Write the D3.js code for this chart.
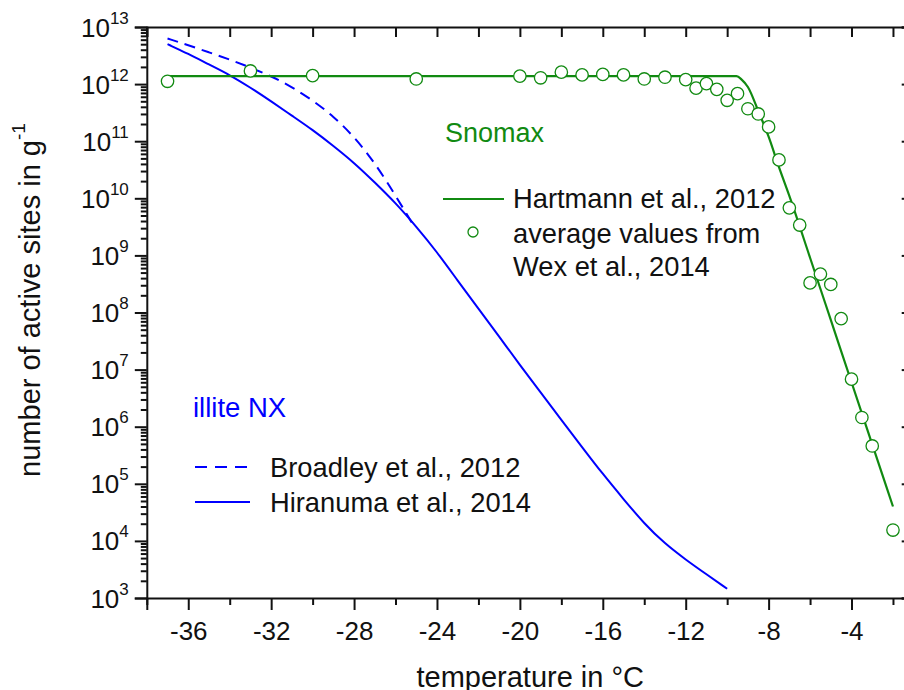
<!DOCTYPE html>
<html>
<head>
<meta charset="utf-8">
<script src="https://cdn.jsdelivr.net/npm/d3@7"></script>
<style>
  body { margin: 0; background: #fff; }
  svg { display: block; font-family: "Liberation Sans", Arial, sans-serif; }
</style>
</head>
<body>
<svg id="chart" width="904" height="690"></svg>
<script>
/* Snomax: Hartmann et al. 2012 fit (temperature in degC, sites per g) */
var hartmannT = [-37, -9.55, -9.3, -9.0, -8.5, -8.0, -7.5, -7.0, -6.0, -5.0, -4.0, -3.0, -2.0];
var hartmannN = [1.38e12, 1.38e12, 1.2e12, 8.9e11, 3.4e11, 1.2e11, 3.5e10, 1.1e10, 9.1e8, 7.4e7, 6.0e6, 4.9e5, 4.0e4];

/* Snomax: average values from Wex et al. 2014 */
var wexT = [-37, -33, -30, -25, -20, -19, -18, -17, -16, -15, -14, -13, -12, -11.5, -11, -10.5,
            -10, -9.5, -9, -8.5, -8, -7.5, -7, -6.5, -6, -5.5, -5, -4.5, -4, -3.5, -3, -2];
var wexN = [1.12e12, 1.7e12, 1.41e12, 1.23e12, 1.38e12, 1.29e12, 1.62e12, 1.45e12, 1.48e12, 1.45e12,
            1.23e12, 1.32e12, 1.2e12, 8.5e11, 1.02e12, 8.1e11, 5.2e11, 6.8e11, 3.7e11, 3.0e11, 1.78e11,
            4.7e10, 6.8e9, 3.4e9, 3.3e8, 4.7e8, 3.1e8, 7.8e7, 6.8e6, 1.45e6, 4.6e5, 1.55e4];

/* illite NX: Hiranuma et al. 2014 */
var hiranumaT = [-37, -36, -35, -34, -33, -32, -31, -30, -29, -28, -27, -26, -25, -24,
                 -23, -22, -21, -20, -19, -18, -17, -16, -15, -14, -13, -12, -11, -10];
var hiranumaN = [5.0e12, 3.4e12, 2.2e12, 1.45e12, 8.7e11, 5.0e11, 2.8e11, 1.58e11, 8.3e10, 4.2e10,
                 1.9e10, 8.3e9, 3.2e9, 1.15e9, 3.6e8, 1.17e8, 3.8e7, 1.2e7, 4.0e6, 1.32e6, 4.4e5,
                 1.48e5, 5.4e4, 2.0e4, 8.9e3, 4.7e3, 2.6e3, 1.45e3];

/* illite NX: Broadley et al. 2012 */
var broadleyT = [-37, -36, -35, -34, -33, -32, -31, -30, -29, -28, -27, -26, -25.1];
var broadleyN = [6.3e12, 4.8e12, 3.6e12, 2.7e12, 1.95e12, 1.38e12, 8.9e11, 5.2e11, 2.75e11,
                 1.2e11, 4.2e10, 1.12e10, 3.2e9];

var xTicks = [-36, -32, -28, -24, -20, -16, -12, -8, -4];
var xMinorTicks = [-38, -34, -30, -26, -22, -18, -14, -10, -6, -2];
var yTicks = [1e3, 1e4, 1e5, 1e6, 1e7, 1e8, 1e9, 1e10, 1e11, 1e12, 1e13];

var green = "#118a11", blue = "#0000ff", ink = "#111";

var svg = d3.select("#chart");
var x = d3.scaleLinear().domain([-38, -1]).range([146.8, 913.7]);
var y = d3.scaleLog().domain([1e3, 1e13]).range([598, 27]);

function pairs(ts, ns) {
    return ts.map(function(t, i) { return [t, ns[i]]; });
}

var line = d3.line()
    .x(function(d) { return x(d[0]); })
    .y(function(d) { return y(d[1]); })
    .curve(d3.curveMonotoneX);

var smooth = d3.line()
    .x(function(d) { return x(d[0]); })
    .y(function(d) { return y(d[1]); })
    .curve(d3.curveBasis);

/* log minor ticks 2..9 in each decade */
var yMinor = [];
yTicks.slice(0, -1).forEach(function(v) {
    for (var k = 2; k < 10; k++) yMinor.push(v * k);
});

/* ---- axes ---- */
function styleAxis(g) {
    g.select(".domain").attr("stroke", ink).attr("stroke-width", 2);
    g.selectAll(".tick line").attr("stroke", ink).attr("stroke-width", 2);
}

var bottomY = y.range()[0], topY = y.range()[1];
var leftX = x.range()[0], rightX = x.range()[1];

var gx = svg.append("g").attr("transform", "translate(0," + bottomY + ")")
    .call(d3.axisBottom(x).tickValues(xTicks).tickSize(12).tickPadding(12)
          .tickFormat(function(d) { return String(d); }));
styleAxis(gx);
gx.selectAll("text").attr("font-size", 26).attr("fill", ink).attr("font-family", "Liberation Sans, Arial, sans-serif");

svg.append("g").attr("transform", "translate(0," + bottomY + ")")
    .call(d3.axisBottom(x).tickValues(xMinorTicks).tickSize(7).tickFormat(""))
    .call(styleAxis).select(".domain").remove();

var gTop = svg.append("g").attr("transform", "translate(0," + topY + ")")
    .call(d3.axisBottom(x).tickValues(xTicks.concat(xMinorTicks)).tickSize(10).tickFormat(""));
styleAxis(gTop);

var gy = svg.append("g").attr("transform", "translate(" + leftX + ",0)")
    .call(d3.axisLeft(y).tickValues(yTicks).tickSize(12).tickFormat(""));
styleAxis(gy);

var yLab = gy.selectAll(".tick").append("text")
    .attr("x", -18).attr("y", 9)
    .attr("text-anchor", "end")
    .attr("fill", ink)
    .attr("font-size", 26)
    .attr("font-family", "Liberation Sans, Arial, sans-serif");
yLab.append("tspan").text("10");
yLab.append("tspan").attr("font-size", 17).attr("dy", -13)
    .text(function(d) { return Math.round(Math.log10(d)); });

svg.append("g").attr("transform", "translate(" + leftX + ",0)")
    .call(d3.axisLeft(y).tickValues(yMinor).tickSize(6).tickFormat(""))
    .call(styleAxis).select(".domain").remove();

var gRight = svg.append("g").attr("transform", "translate(" + rightX + ",0)")
    .call(d3.axisRight(y).tickValues(yTicks).tickSize(-12).tickFormat(""));
styleAxis(gRight);

/* axis titles */
svg.append("text")
    .attr("x", (leftX + rightX) / 2).attr("y", 687)
    .attr("text-anchor", "middle").attr("font-size", 29).attr("fill", ink)
    .text("temperature in °C");

var yt = svg.append("text")
    .attr("transform", "translate(40,300) rotate(-90)")
    .attr("text-anchor", "middle").attr("font-size", 29).attr("fill", ink);
yt.append("tspan").text("number of active sites in g");
yt.append("tspan").attr("font-size", 19).attr("dy", -15).text("-1");

/* ---- data ---- */
var plot = svg.append("g");

plot.append("path").datum(pairs(broadleyT, broadleyN))
    .attr("d", smooth).attr("fill", "none")
    .attr("stroke", blue).attr("stroke-width", 2).attr("stroke-dasharray", "11,7");

plot.append("path").datum(pairs(hiranumaT, hiranumaN))
    .attr("d", smooth).attr("fill", "none")
    .attr("stroke", blue).attr("stroke-width", 2);

plot.append("path").datum(pairs(hartmannT, hartmannN))
    .attr("d", line).attr("fill", "none")
    .attr("stroke", green).attr("stroke-width", 2.2);

plot.selectAll("circle.wex").data(pairs(wexT, wexN))
    .enter().append("circle")
    .attr("class", "wex")
    .attr("cx", function(d) { return x(d[0]); })
    .attr("cy", function(d) { return y(d[1]); })
    .attr("r", 6.2)
    .attr("fill", "#fff")
    .attr("stroke", green).attr("stroke-width", 1.3);

/* ---- labels & legends ---- */
svg.append("text").attr("x", 445).attr("y", 142)
    .attr("font-size", 27).attr("fill", green).text("Snomax");

svg.append("line").attr("x1", 443).attr("x2", 504).attr("y1", 199).attr("y2", 199)
    .attr("stroke", green).attr("stroke-width", 2.2);
svg.append("circle").attr("cx", 473).attr("cy", 232).attr("r", 5)
    .attr("fill", "#fff").attr("stroke", green).attr("stroke-width", 1.3);

var legSno = [["Hartmann et al., 2012", 208], ["average values from", 243], ["Wex et al., 2014", 276]];
svg.selectAll("text.legsno").data(legSno).enter().append("text")
    .attr("class", "legsno")
    .attr("x", 513).attr("y", function(d) { return d[1]; })
    .attr("font-size", 27.3).attr("fill", ink)
    .text(function(d) { return d[0]; });

svg.append("text").attr("x", 193).attr("y", 417)
    .attr("font-size", 27.5).attr("fill", blue).text("illite NX");

svg.append("line").attr("x1", 195).attr("x2", 250).attr("y1", 467).attr("y2", 467)
    .attr("stroke", blue).attr("stroke-width", 2).attr("stroke-dasharray", "12,8");
svg.append("line").attr("x1", 195).attr("x2", 250).attr("y1", 502).attr("y2", 502)
    .attr("stroke", blue).attr("stroke-width", 2);

var legIll = [["Broadley et al., 2012", 477], ["Hiranuma et al., 2014", 512]];
svg.selectAll("text.legill").data(legIll).enter().append("text")
    .attr("class", "legill")
    .attr("x", 270).attr("y", function(d) { return d[1]; })
    .attr("font-size", 27.3).attr("fill", ink)
    .text(function(d) { return d[0]; });
</script>
</body>
</html>
